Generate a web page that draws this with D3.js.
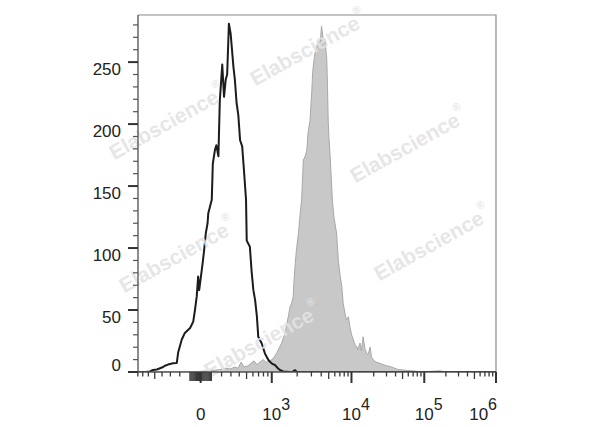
<!DOCTYPE html>
<html><head><meta charset="utf-8">
<script src="https://cdn.jsdelivr.net/npm/d3@7"></script>
<style>
body{margin:0;background:#fff;}
svg{display:block;font-family:"Liberation Sans",Arial,Helvetica,sans-serif;}
</style>
</head><body>
<svg id="chart" width="600" height="427"></svg>
<script>
// ---------------- data ----------------
// histogram x positions are display channels (0..1024) on a logicle (biexponential) axis
const yTickValues = [0, 50, 100, 150, 200, 250];
const xTickValues = [0, 1e3, 1e4, 1e5, 1e6];
const xTickBases  = ["0", "10", "10", "10", "10"];
const xTickExps   = ["", "3", "4", "5", "6"];

const blackChannel = [0,23,34,43,54,63,72,77,86,92,100,111,115,125,134,149,158,163,168,172,175,185,189,194,199,201,211,214,220,224,230,234,241,246,251,255,260,265,273,277,282,287,292,298,303,307,309,311,320,325,330,335,340,344,354,363,373,382,392,400,406,415,435,443,449,455,1024];
const blackCount   = [0,0,0.5,1.6,2,3,4,5,6,6.5,7,7.3,16,26,31.5,35.5,40.6,50,61,77,66,88,98,112,120,128,139,168,179,183,174,219,248,222,236,240,281,273,246,236,217,207,187,182,163,147,139,106,101,81,66,58,45,28.5,23,15,9.7,7,5.5,3,1.6,0.5,0,0.3,1.5,0,0];

const grayChannel = [0,149,177,206,220,235,249,263,278,286,295,303,315,323,332,340,349,358,368,372,382,389,397,403,411,415,421,425,430,435,439,444,446,449,453,459,463,468,473,478,483,486,492,497,499,501,506,511,516,521,523,525,529,535,540,542,544,546,549,554,556,561,568,573,578,583,587,592,596,602,606,611,616,621,626,629,635,639,644,649,654,658,664,668,673,681,692,701,711,721,730,744,759,778,792,807,835,864,878,1024];
const grayCount   = [0,0,0.5,1,1.5,2,3,2.5,4,3,8,4,5,7,9,6,8,10,7.3,9,9.7,12,15.3,19,23.4,27,31.5,38,44.6,52.7,55,60.8,72,85,98,112,125,139,171,174,179,192,203,226,238,246,257,262,268,265,272,279,270,268,252,230,203,190,177,150,138,124,112,90,78,69,55,47.6,42,44.6,36.6,30,25.8,22,20.4,18,23.4,17,28.5,19,15,14,20,12,9.7,8,7,6,5,4.5,3.5,2,1.6,1,0.8,0.3,0.5,1,0,0];

const watermarkText = "Elabscience";
const watermarkSpots = [[308,48],[167,122],[408,145],[177,255],[432,243],[262,340]];

// ---------------- logicle transform ----------------
function makeLogicle(T, W, M, A) {
  const w = W / (M + A), x2 = A / (M + A), x1 = x2 + w, x0 = x2 + 2 * w;
  const b = (M + A) * Math.LN10;
  const g = d => 2 * (Math.log(d) - Math.log(b)) + w * (b + d);
  let lo = 1e-9, hi = b;
  for (let i = 0; i < 200; i++) { const m = (lo + hi) / 2; if (g(m) > 0) hi = m; else lo = m; }
  const d = (lo + hi) / 2;
  const ca = Math.exp(x0 * (b + d));
  const mfa = Math.exp(b * x1) - ca / Math.exp(d * x1);
  const a = T / (Math.exp(b) - mfa - ca / Math.exp(d));
  const c = ca * a, f = -mfa * a;
  const Spos = x => a * Math.exp(b * x) - c * Math.exp(-d * x) + f;
  const S = x => x >= x1 ? Spos(x) : -Spos(2 * x1 - x);
  return v => {
    let l = -1, h = 1.5;
    for (let i = 0; i < 200; i++) { const m = (l + h) / 2; if (S(m) < v) l = m; else h = m; }
    return (l + h) / 2;
  };
}
const logicle = makeLogicle(1e6, 0.675, 4.8, 0.2);
const toChannel = v => 1024 * logicle(v);

// ---------------- layout ----------------
const svg = d3.select("#chart");
const P = { l: 138, r: 496, t: 15, b: 372 };
const x = d3.scaleLinear().domain([0, 1024]).range([P.l, P.r]);
const y = d3.scaleLinear().domain([0, 288]).range([P.b, P.t]);

svg.append("defs").append("clipPath").attr("id", "clip")
  .append("rect").attr("x", P.l).attr("y", P.t - 2).attr("width", P.r - P.l).attr("height", P.b - P.t + 2);

const grayData = grayChannel.map((c, i) => [c, grayCount[i]]);
const blackData = blackChannel.map((c, i) => [c, blackCount[i]]);

const gPlot = svg.append("g").attr("clip-path", "url(#clip)");
gPlot.append("path").datum(grayData)
  .attr("d", d3.area().x(d => x(d[0])).y0(y(0)).y1(d => y(d[1])))
  .attr("fill", "#c8c8c8").attr("stroke", "#a8a8a8").attr("stroke-width", 1).attr("stroke-linejoin", "round");

// watermarks
const wm = svg.append("g");
watermarkSpots.forEach(([cx, cy]) => {
  const t = wm.append("text")
    .attr("transform", `translate(${cx},${cy}) rotate(-29)`)
    .attr("text-anchor", "middle").attr("dominant-baseline", "central")
    .attr("font-size", 21).attr("font-weight", "bold")
    .attr("fill", "#e3e3e3").attr("fill-opacity", 0.9);
  t.append("tspan").text(watermarkText);
  t.append("tspan").text("®").attr("font-size", 11).attr("dy", -10);
});

// black histogram line
gPlot.append("path").datum(blackData)
  .attr("d", d3.line().x(d => x(d[0])).y(d => y(d[1])))
  .attr("fill", "none").attr("stroke", "#1c1c1c").attr("stroke-width", 2).attr("stroke-linejoin", "round");

// frame
svg.append("path")
  .attr("d", `M${P.l},${P.t}H${P.r}V${P.b}`)
  .attr("fill", "none").attr("stroke", "#8a8a8a").attr("stroke-width", 1.2);
svg.append("line").attr("x1", P.l).attr("x2", P.l).attr("y1", P.t).attr("y2", P.b)
  .attr("stroke", "#666").attr("stroke-width", 1.5);
svg.append("line").attr("x1", P.l).attr("x2", P.r).attr("y1", P.b).attr("y2", P.b)
  .attr("stroke", "#555").attr("stroke-width", 1.6);

// ---------------- y axis ----------------
const yMinor = d3.range(0, 289, 10).filter(v => v % 50 !== 0);
svg.append("g").selectAll("line").data(yMinor).join("line")
  .attr("x1", P.l - 5).attr("x2", P.l).attr("y1", d => y(d)).attr("y2", d => y(d))
  .attr("stroke", "#555").attr("stroke-width", 1.2);
svg.append("g").selectAll("line").data(yTickValues).join("line")
  .attr("x1", P.l - 10).attr("x2", P.l).attr("y1", d => y(d)).attr("y2", d => y(d))
  .attr("stroke", "#333").attr("stroke-width", 2);
svg.append("g").selectAll("text").data(yTickValues).join("text")
  .attr("x", P.l - 17)
  .attr("y", d => Math.min(y(d) + 12.5, P.b - 1))
  .attr("text-anchor", "end").attr("font-size", 17).attr("fill", "#222")
  .text(d => d);

// ---------------- x axis ----------------
const xTicks = [];
for (let k = 1; k <= 9; k++) { xTicks.push({ v: k * 10, len: 9 }); xTicks.push({ v: -k * 10, len: 9 }); }
xTicks.push({ v: 100, len: 9 }); xTicks.push({ v: -100, len: 9 });
for (let e = 2; e <= 5; e++) {
  for (let k = 2; k <= 9; k++) {
    const v = k * Math.pow(10, e);
    xTicks.push({ v: v, len: k === 5 ? 7 : 4.5 });
    if (e === 2) xTicks.push({ v: -v, len: k === 5 ? 7 : 4.5 });
  }
}
const xTickPos = xTicks.map(t => ({ c: toChannel(t.v), len: t.len })).filter(t => t.c >= -0.5 && t.c <= 1024.5);
svg.append("g").selectAll("line").data(xTickPos).join("line")
  .attr("x1", d => x(d.c)).attr("x2", d => x(d.c))
  .attr("y1", P.b).attr("y2", d => P.b + d.len)
  .attr("stroke", "#3a3a3a").attr("stroke-width", 1.3);
svg.append("g").selectAll("line").data(xTickValues).join("line")
  .attr("x1", d => x(toChannel(d))).attr("x2", d => x(toChannel(d)))
  .attr("y1", P.b).attr("y2", P.b + 11)
  .attr("stroke", "#333").attr("stroke-width", 2);

// labels
const gLab = svg.append("g").attr("fill", "#222");
xTickValues.forEach((v, i) => {
  const cx = x(toChannel(v));
  const base = gLab.append("text").attr("font-size", 17).attr("y", 420).text(xTickBases[i]);
  const bw = base.node().getComputedTextLength();
  let left = cx - bw / 2;
  if (xTickExps[i]) {
    const expNode = gLab.append("text").attr("font-size", 16).attr("y", 410).text(xTickExps[i]);
    const ew = expNode.node().getComputedTextLength();
    if (left + bw + ew > P.r + 1) left = P.r + 1 - bw - ew;
    expNode.attr("x", left + bw);
  }
  base.attr("x", left);
});
</script>
</body></html>
